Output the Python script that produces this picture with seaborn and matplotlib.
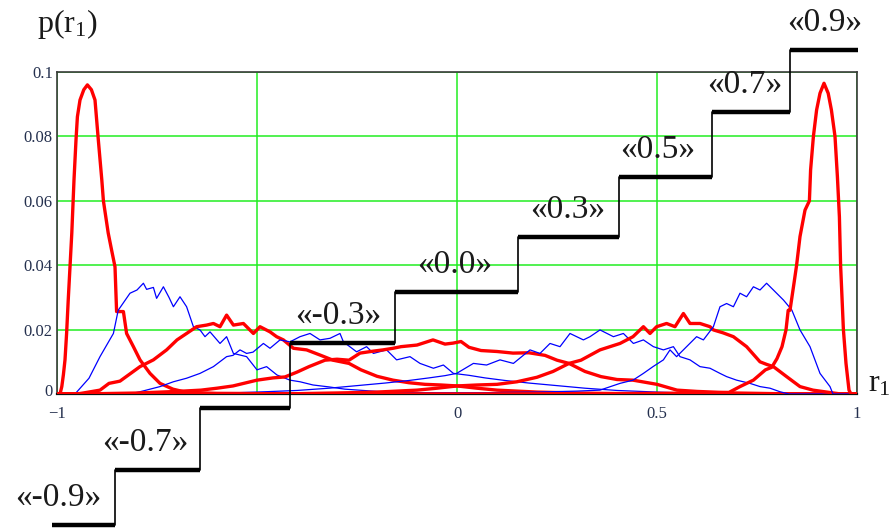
import matplotlib
matplotlib.use("Agg")
import matplotlib.pyplot as plt
import matplotlib.transforms as mtransforms
import seaborn as sns
import pandas as pd

# ---- sampled densities p(r1) for each correlation level ----
r_m09 = [-1.0, -0.9925, -0.988, -0.984, -0.98, -0.976, -0.972, -0.9675, -0.963, -0.9575, -0.9525, -0.949,
         -0.9425, -0.933, -0.924, -0.914, -0.905, -0.8967, -0.888, -0.884, -0.878, -0.872, -0.864, -0.855,
         -0.851, -0.843, -0.834, -0.826, -0.809, -0.7925, -0.7675, -0.7425, -0.71, -0.676, -0.6, -0.4,
         -0.2, 0.0, 0.3, 0.6, 1.0]
p_m09 = [0.0, 0.0, 0.0023, 0.006, 0.0106, 0.0188, 0.029, 0.0395, 0.05, 0.0665, 0.0789, 0.0861,
         0.0913, 0.0945, 0.096, 0.0945, 0.0913, 0.0789, 0.0665, 0.06, 0.055, 0.05, 0.045, 0.0395,
         0.0256, 0.0256, 0.0256, 0.0188, 0.0147, 0.0106, 0.0064, 0.0033, 0.0015, 0.0005, 0.0002, 0.0001,
         0.0002, 0.0, 0.0, 0.0, 0.0]

r_m07 = [-1.0, -0.955, -0.92, -0.8925, -0.859, -0.847, -0.8175, -0.80, -0.784, -0.776, -0.759, -0.751,
         -0.734, -0.72, -0.709, -0.6925, -0.676, -0.659, -0.6425, -0.63, -0.6175, -0.5925, -0.576, -0.559,
         -0.526, -0.50, -0.476, -0.45, -0.4175, -0.3925, -0.36, -0.32, -0.28, -0.2, -0.1, 0.0, 0.2, 0.5, 1.0]
p_m07 = [0.0, 0.0, 0.0049, 0.0116, 0.0188, 0.026, 0.0313, 0.0323, 0.0344, 0.0325, 0.0331, 0.0297,
         0.0333, 0.030, 0.0271, 0.0302, 0.0271, 0.0209, 0.0199, 0.0178, 0.0193, 0.0157, 0.0178, 0.0126,
         0.0116, 0.0075, 0.0085, 0.0059, 0.0043, 0.0038, 0.0028, 0.0022, 0.0015, 0.0008, 0.0004, 0.0003,
         0.0001, 0.0, 0.0]

r_m05 = [-1.0, -0.95, -0.935, -0.8925, -0.87, -0.85, -0.8425, -0.7925, -0.759, -0.726, -0.70, -0.676,
         -0.651, -0.626, -0.609, -0.5925, -0.576, -0.559, -0.534, -0.509, -0.4925, -0.4675, -0.451, -0.434,
         -0.409, -0.376, -0.3425, -0.31, -0.27, -0.24, -0.2, -0.16, -0.12, -0.08, -0.04, 0.0, 0.05, 0.1,
         0.2, 0.3, 0.4, 0.6, 1.0]
p_m05 = [0.0, 0.0, 0.0003, 0.0012, 0.0033, 0.0038, 0.0040, 0.0085, 0.0106, 0.0137, 0.0168, 0.0188,
         0.0209, 0.0214, 0.0219, 0.0209, 0.0245, 0.0214, 0.0219, 0.0188, 0.0209, 0.0193, 0.0178, 0.0168,
         0.0142, 0.0137, 0.0121, 0.0105, 0.0095, 0.0075, 0.0055, 0.0043, 0.0035, 0.003, 0.0028, 0.0025,
         0.0018, 0.0012, 0.0006, 0.0003, 0.0001, 0.0, 0.0]

r_m03 = [-1.0, -0.82, -0.7925, -0.7425, -0.709, -0.676, -0.6425, -0.609, -0.576, -0.56, -0.5425, -0.526,
         -0.51, -0.484, -0.4675, -0.4425, -0.4175, -0.3925, -0.3675, -0.3425, -0.3175, -0.2925, -0.284,
         -0.251, -0.226, -0.209, -0.176, -0.151, -0.1175, -0.0925, -0.059, -0.034, -0.009, 0.03, 0.07,
         0.12, 0.18, 0.25, 0.32, 0.4, 0.5, 0.6, 0.7, 1.0]
p_m03 = [0.0, 0.0, 0.0007, 0.0023, 0.0038, 0.0049, 0.0064, 0.0085, 0.0116, 0.012, 0.0137, 0.0126,
         0.013, 0.0157, 0.0142, 0.0168, 0.0162, 0.0178, 0.0188, 0.0168, 0.0173, 0.0188, 0.0162,
         0.0131, 0.0147, 0.0126, 0.0137, 0.0106, 0.0116, 0.0095, 0.008, 0.009, 0.0064, 0.0058, 0.005,
         0.0042, 0.0034, 0.0026, 0.0018, 0.0011, 0.0006, 0.0002, 0.0, 0.0]

r_00 = [-1.0, -0.9, -0.8, -0.7, -0.64, -0.6, -0.56, -0.5, -0.46, -0.43, -0.4, -0.37, -0.33, -0.3, -0.27,
        -0.2425, -0.21, -0.185, -0.16, -0.14, -0.1, -0.06, -0.03, -0.01, 0.01, 0.03, 0.06, 0.1, 0.14, 0.18,
        0.22, 0.25, 0.28, 0.32, 0.36, 0.4, 0.44, 0.5, 0.55, 0.6, 0.7, 0.8, 0.9, 1.0]
p_00 = [0.0, 0.0001, 0.0003, 0.0008, 0.0012, 0.0018, 0.0025, 0.0043, 0.005, 0.0053, 0.0068, 0.0085,
        0.0105, 0.0108, 0.0105, 0.0127, 0.0133, 0.0137, 0.0142, 0.0147, 0.0152, 0.0168, 0.0155, 0.0158,
        0.0163, 0.0145, 0.0135, 0.0132, 0.0127, 0.0128, 0.012, 0.0105, 0.0095, 0.007, 0.0054, 0.0045,
        0.0043, 0.003, 0.0012, 0.0008, 0.0003, 0.0001, 0.0, 0.0]

r_p03 = [-1.0, -0.7, -0.6, -0.5, -0.4, -0.32, -0.25, -0.18, -0.12, -0.07, -0.03, -0.001, 0.041, 0.074,
         0.1075, 0.141, 0.1825, 0.2075, 0.2325, 0.2575, 0.2825, 0.316, 0.3325, 0.3575, 0.391, 0.416, 0.441,
         0.466, 0.491, 0.516, 0.541, 0.5575, 0.5825, 0.6075, 0.6325, 0.6575, 0.674, 0.699, 0.7325, 0.7575,
         0.7825, 0.8075, 0.83, 1.0]
p_p03 = [0.0, 0.0, 0.0002, 0.0006, 0.0011, 0.0018, 0.0026, 0.0034, 0.0042, 0.005, 0.0057, 0.0064, 0.0095,
         0.009, 0.0106, 0.0095, 0.0137, 0.0126, 0.0157, 0.0147, 0.0188, 0.0168, 0.0178, 0.0199, 0.0178,
         0.0188, 0.0157, 0.0168, 0.0147, 0.0137, 0.0147, 0.0116, 0.0106, 0.0085, 0.008, 0.0064, 0.0054,
         0.0043, 0.0033, 0.0023, 0.0018, 0.0007, 0.0, 0.0]

r_p05 = [-1.0, -0.6, -0.4, -0.3, -0.2, -0.1, -0.05, 0.0, 0.05, 0.1, 0.15, 0.2, 0.24, 0.28, 0.31, 0.3575,
         0.4075, 0.44, 0.466, 0.4825, 0.499, 0.524, 0.545, 0.566, 0.5825, 0.6075, 0.6325, 0.641, 0.665,
         0.691, 0.724, 0.7575, 0.774, 0.791, 0.824, 0.8575, 0.89, 0.93, 0.96, 1.0]
p_p05 = [0.0, 0.0, 0.0001, 0.0003, 0.0006, 0.0012, 0.0018, 0.0025, 0.0028, 0.003, 0.0038, 0.0052, 0.007,
         0.0095, 0.0105, 0.0137, 0.0157, 0.0178, 0.0209, 0.0188, 0.0209, 0.0219, 0.0209, 0.025, 0.0219,
         0.0219, 0.0209, 0.0199, 0.019, 0.0178, 0.0147, 0.01, 0.0092, 0.0085, 0.0054, 0.0023, 0.0012,
         0.0005, 0.0, 0.0]

r_p07 = [-1.0, -0.5, -0.2, 0.0, 0.2, 0.3, 0.3575, 0.4075, 0.44, 0.466, 0.49, 0.516, 0.5325, 0.549, 0.574,
         0.599, 0.616, 0.641, 0.6575, 0.674, 0.691, 0.7075, 0.724, 0.741, 0.7575, 0.774, 0.791, 0.816,
         0.837, 0.8575, 0.8825, 0.9075, 0.9325, 0.94, 1.0]
p_p07 = [0.0, 0.0, 0.0001, 0.0003, 0.0006, 0.0009, 0.0012, 0.0033, 0.0043, 0.0064, 0.0085, 0.0106, 0.0137,
         0.0116, 0.0147, 0.0178, 0.0168, 0.0209, 0.0271, 0.0281, 0.0271, 0.0313, 0.0302, 0.0333, 0.0323,
         0.0344, 0.0323, 0.0292, 0.0261, 0.0199, 0.0147, 0.0064, 0.0023, 0.0, 0.0]

r_p09 = [-1.0, -0.6, -0.3, 0.0, 0.3, 0.5, 0.62, 0.68, 0.7075, 0.741, 0.771, 0.787, 0.8, 0.8125, 0.8225,
         0.828, 0.8325, 0.8425, 0.849, 0.8575, 0.87, 0.881, 0.884, 0.891, 0.899, 0.9075, 0.9175, 0.928,
         0.936, 0.945, 0.951, 0.956, 0.959, 0.966, 0.9725, 0.98, 0.985, 1.0]
p_p09 = [0.0, 0.0, 0.0001, 0.0, 0.0001, 0.0002, 0.0003, 0.0005, 0.0023, 0.0043, 0.0075, 0.0083, 0.011,
         0.0147, 0.0199, 0.026, 0.026, 0.0344, 0.04, 0.0489, 0.0571, 0.06, 0.0696, 0.08, 0.0882, 0.0934,
         0.0965, 0.0934, 0.0882, 0.08, 0.0675, 0.055, 0.04, 0.02, 0.0095, 0.0012, 0.0, 0.0]

rho_levels = ["-0.9", "-0.7", "-0.5", "-0.3", "0.0", "0.3", "0.5", "0.7", "0.9"]
curves_r = [r_m09, r_m07, r_m05, r_m03, r_00, r_p03, r_p05, r_p07, r_p09]
curves_p = [p_m09, p_m07, p_m05, p_m03, p_00, p_p03, p_p05, p_p07, p_p09]
step_labels = ["«-0.9»", "«-0.7»", "", "«-0.3»", "«0.0»", "«0.3»", "«0.5»", "«0.7»", "«0.9»"]

x_ticks = [-1, -0.5, 0, 0.5, 1]
x_ticklabels = ["\u22121", "", "0", "0.5", "1"]
y_ticks = [0, 0.02, 0.04, 0.06, 0.08, 0.1]
y_ticklabels = ["0", "0.02", "0.04", "0.06", "0.08", "0.1"]

# ---- staircase legend geometry (data units, drawn outside the frame) ----
step_left = [-1.0125, -0.855, -0.6425, -0.4175, -0.155, 0.1525, 0.405, 0.6375, 0.8325]
step_right = [-0.855, -0.6425, -0.4175, -0.155, 0.1525, 0.405, 0.6375, 0.8325, 1.0025]
step_level = [-0.0407, -0.0236, -0.00435, 0.0158, 0.0317, 0.0487, 0.0674, 0.0876, 0.1068]
label_x = [-0.9975, -0.78, 0.0, -0.2975, -0.005, 0.2775, 0.5025, 0.72, 0.92]

records = []
for lvl, rs, ps in zip(rho_levels, curves_r, curves_p):
    for r, p in zip(rs, ps):
        records.append({"rho": lvl, "r1": r, "p": p})
df = pd.DataFrame(records)

sns.set_theme(style="white")
plt.rcParams["font.family"] = ["Liberation Serif", "DejaVu Serif"]
plt.rcParams["mathtext.fontset"] = "custom"
plt.rcParams["mathtext.rm"] = "Liberation Serif"

fig = plt.figure(figsize=(8.91, 5.29), dpi=100)
ax = fig.add_axes([57 / 891, 1 - 394 / 529, 800 / 891, 322 / 529])

line_color = {lvl: ("#ff0000" if i % 2 == 0 else "#0000ff") for i, lvl in enumerate(rho_levels)}
line_width = {lvl: (2.4 if i % 2 == 0 else 0.9) for i, lvl in enumerate(rho_levels)}

for lvl in rho_levels:
    sub = df[df["rho"] == lvl]
    sns.lineplot(data=sub, x="r1", y="p", ax=ax, color=line_color[lvl],
                 linewidth=line_width[lvl], estimator=None, sort=False, zorder=3)

ax.set_xlim(-1, 1)
ax.set_ylim(0, 0.1)
ax.set_xticks(x_ticks)
ax.set_xticklabels(x_ticklabels)
ax.set_yticks(y_ticks)
ax.set_yticklabels(y_ticklabels)
ax.set_xlabel("")
ax.set_ylabel("")
ax.grid(True, color="#22ee22", linewidth=1.1)
ax.set_axisbelow(True)
ax.tick_params(axis="both", length=0, labelsize=12, colors="#24304e")
ax.tick_params(axis="x", pad=9)
ax.tick_params(axis="y", pad=3)
# lift the y-axis zero slightly so it clears the "−1" below it
zero_label = ax.get_yticklabels()[0]
zero_label.set_transform(zero_label.get_transform() +
                         mtransforms.ScaledTranslation(0, 3 / 72, fig.dpi_scale_trans))
for side in ["left", "top", "right"]:
    ax.spines[side].set_color("#3a3a3a")
    ax.spines[side].set_linewidth(1.2)
ax.spines["bottom"].set_color("#111111")
ax.spines["bottom"].set_linewidth(1.6)

# staircase of correlation labels
for i in range(len(step_level)):
    ax.plot([step_left[i], step_right[i]], [step_level[i], step_level[i]],
            color="black", linewidth=3.2, solid_capstyle="butt", clip_on=False, zorder=5)
    if i + 1 < len(step_level):
        ax.plot([step_right[i], step_right[i]], [step_level[i], step_level[i + 1]],
                color="black", linewidth=1.2, clip_on=False, zorder=5)
    if step_labels[i]:
        ax.annotate(step_labels[i], xy=(label_x[i], step_level[i]), xytext=(0, 19.5),
                    textcoords="offset points", ha="center", va="center",
                    fontsize=24, color="#1a1a1a", annotation_clip=False, zorder=6)

fig.text(67 / 891, 1 - 24 / 529, r"$\mathregular{p(r_1)}$", fontsize=23, ha="center", va="center",
         color="#1a1a1a")
fig.text(879 / 891, 1 - 384 / 529, r"$\mathregular{r_1}$", fontsize=23, ha="center", va="center",
         color="#1a1a1a")

fig.savefig("out.png", dpi=100, facecolor="white")
